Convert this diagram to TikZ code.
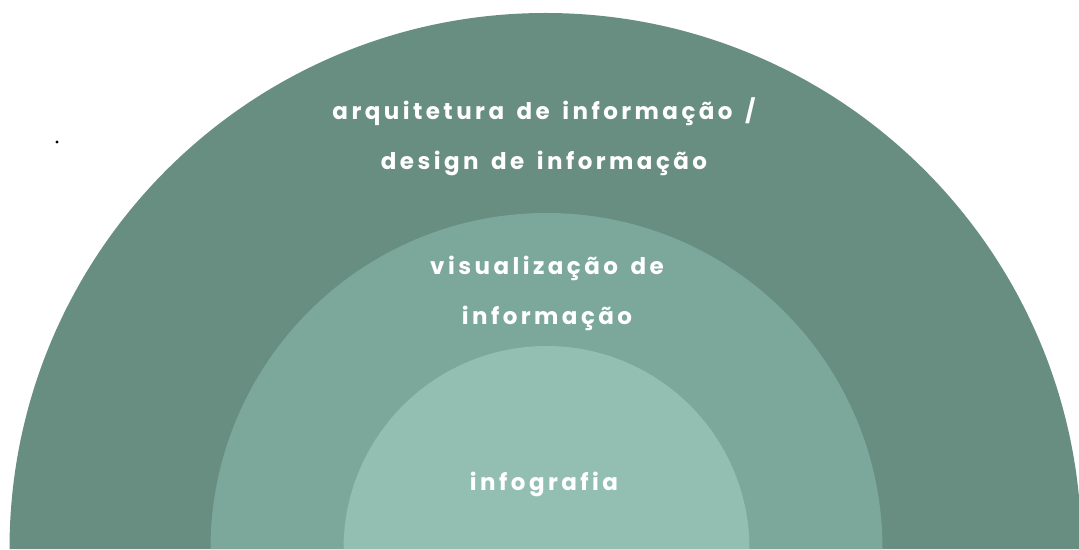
\documentclass[tikz,border=0pt]{standalone}
\usepackage{fontspec}
\setmainfont{Poppins}[LetterSpace=15, WordSpace=1.5]
\definecolor{bandouter}{HTML}{688D81}
\definecolor{bandmiddle}{HTML}{7CA79B}
\definecolor{bandinner}{HTML}{92BFB2}
\tikzset{
    label/.style={text=white, font=\fontsize{23}{50}\selectfont\bfseries, align=center},
}
\begin{document}
\begin{tikzpicture}[x=1pt,y=1pt]
    \useasboundingbox (0,0) rectangle (1079,549);

    \fill[bandouter] (545.5,0) ++(-536,0) arc[start angle=180, end angle=0, radius=536] -- cycle;
    \fill[bandmiddle] (546.5,0) ++(-336,0) arc[start angle=180, end angle=0, radius=336] -- cycle;
    \fill[bandinner] (546.5,0) ++(-203,0) arc[start angle=180, end angle=0, radius=203] -- cycle;
    \fill[black] (57,407) circle (1.7);

    \draw (544,412) node [label] (arq) {arquitetura de informação /\\design de informação} ;
    \draw (547,256) node [label] (vis) {visualização de\\informação} ;
    \draw (544,65) node [label] (info) {infografia} ;
\end{tikzpicture}
\end{document}
